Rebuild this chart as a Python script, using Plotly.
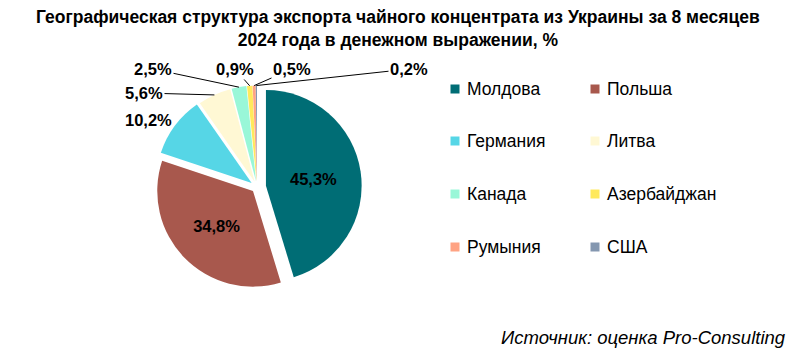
import math
import plotly.graph_objects as go

countries = ["Молдова", "Польша", "Германия", "Литва", "Канада", "Азербайджан", "Румыния", "США"]
shares = [45.3, 34.8, 10.2, 5.6, 2.5, 0.9, 0.5, 0.2]
colors = ["#006D75", "#A8584D", "#56D6E6", "#FFF8D4", "#99F7D8", "#FFE95C", "#FFA383", "#8497B0"]
title_text = "Географическая структура экспорта чайного концентрата из Украины за 8 месяцев<br>2024 года в денежном выражении, %"
source_text = "Источник: оценка Pro-Consulting"

FONT = "Liberation Sans, Arial, sans-serif"
W, H = 795, 357
pulls = [0.094, 0.059, 0.07, 0.06, 0.06, 0.06, 0.06, 0.06]
dom_x = [0.1916, 0.4550]
dom_y = [0.1829, 0.7695]

fig = go.Figure()
fig.add_trace(go.Pie(
    labels=countries,
    values=shares,
    sort=False,
    direction="clockwise",
    rotation=0,
    marker=dict(colors=colors, line=dict(width=0)),
    pull=pulls,
    texttemplate="%{value:.1f}%",
    textposition=["inside", "inside", "none", "none", "none", "none", "none", "none"],
    insidetextorientation="horizontal",
    textfont=dict(family=FONT, size=16.5, color="black", weight="bold"),
    domain=dict(x=dom_x, y=dom_y),
    showlegend=False,
    hoverinfo="label+percent",
))

# outside data labels (label placement in pixels) with leader lines to slice edges
cx = W * (dom_x[0] + dom_x[1]) / 2
cy = H * (1 - (dom_y[0] + dom_y[1]) / 2)
r = min(W * (dom_x[1] - dom_x[0]), H * (dom_y[1] - dom_y[0])) / (2 + 2 * max(pulls))
label_pos = {2: (148, 120), 3: (144, 93), 4: (153, 69), 5: (235, 69), 6: (292, 69), 7: (409, 69)}
total = sum(shares)
cum = 0.0
for i, v in enumerate(shares):
    mid = (cum + v / 2) / total * 2 * math.pi
    cum += v
    if i not in label_pos:
        continue
    lx, ly = label_pos[i]
    rr = r * (1 + pulls[i])
    tx = cx + rr * math.sin(mid)
    ty = cy - rr * math.cos(mid)
    txt = f"{v:.1f}%".replace(".", ",")
    if i == 2:
        fig.add_annotation(xref="paper", yref="paper", x=lx / W, y=1 - ly / H,
                           xanchor="center", yanchor="middle",
                           showarrow=False, text=f"<b>{txt}</b>",
                           font=dict(family=FONT, size=16.5, color="black"))
    else:
        fig.add_annotation(xref="paper", yref="paper", x=tx / W, y=1 - ty / H,
                           ax=lx - tx, ay=ly - ty, axref="pixel", ayref="pixel",
                           showarrow=True, arrowhead=0, arrowwidth=1, arrowcolor="black",
                           text=f"<b>{txt}</b>",
                           font=dict(family=FONT, size=16.5, color="black"))

# manual two-column legend
rows_y = [89, 141, 194, 247]
cols_x = [455, 595]
for i, name in enumerate(countries):
    rw, c = divmod(i, 2)
    mx = cols_x[c]
    my = rows_y[rw]
    fig.add_shape(type="rect", xref="paper", yref="paper",
                  x0=(mx - 4.5) / W, x1=(mx + 4.5) / W,
                  y0=1 - (my + 4.5) / H, y1=1 - (my - 4.5) / H,
                  fillcolor=colors[i], line=dict(width=0))
    fig.add_annotation(xref="paper", yref="paper", x=(mx + 10) / W, y=1 - my / H,
                       xanchor="left", yanchor="middle", showarrow=False,
                       text=name, font=dict(family=FONT, size=17.5, color="black"))

fig.add_annotation(xref="paper", yref="paper", x=788 / W, y=1 - 337 / H,
                   xanchor="right", yanchor="middle", showarrow=False,
                   text="<i>" + source_text + "</i>",
                   font=dict(family=FONT, size=18.5, color="black"))

fig.add_annotation(xref="paper", yref="paper", x=0.5, y=1 - 5 / H,
                   xanchor="center", yanchor="top", showarrow=False,
                   text="<b>" + title_text + "</b>",
                   font=dict(family=FONT, size=17.5, color="black"))

fig.update_layout(
    width=W, height=H,
    margin=dict(l=0, r=0, t=0, b=0),
    paper_bgcolor="white",
    separators=", ",
)

fig.write_html("out.html", config={"displayModeBar": False},
               post_script="document.body.style.margin='0';")
